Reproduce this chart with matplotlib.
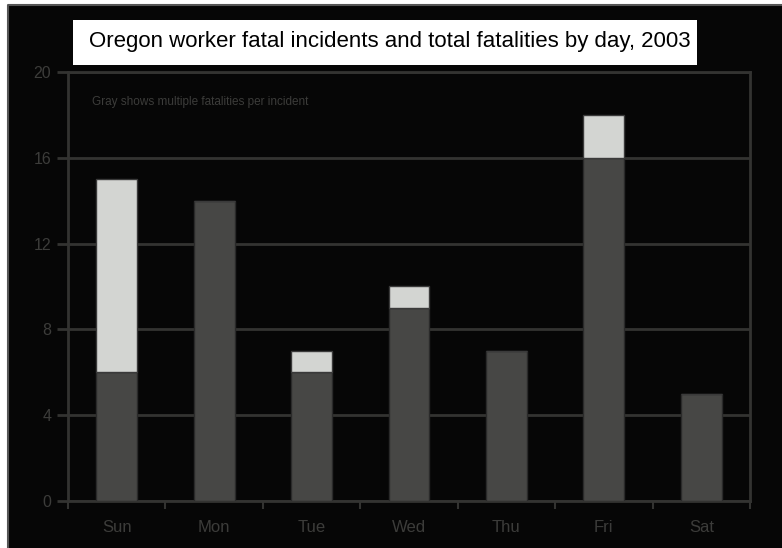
import matplotlib
matplotlib.use('Agg')
from matplotlib import pyplot as plt
from matplotlib.patches import Rectangle
from matplotlib.lines import Line2D
import numpy as np

days = ['Sun', 'Mon', 'Tue', 'Wed', 'Thu', 'Fri', 'Sat']
incidents = [6, 14, 6, 9, 7, 16, 5]
fatalities = [15, 14, 7, 10, 7, 18, 5]
y_ticks = [0, 4, 8, 12, 16, 20]

dark = '#474745'
light = '#d3d5d2'
line_col = '#333331'
text_col = '#3c3c3a'

plt.rcParams['font.family'] = ['Liberation Sans', 'DejaVu Sans']

fig = plt.figure(figsize=(7.82, 5.48), dpi=100, facecolor='white')
# black panel behind everything, gray edge only on top and left
x0, y1 = 8 / 782, 1 - 5 / 548
fig.patches.append(Rectangle((x0, 0), 1 - x0, y1, transform=fig.transFigure,
                             facecolor='#060606', edgecolor='none', zorder=-2))
fig.lines.append(Line2D([x0, x0, 1], [0, y1, y1], transform=fig.transFigure,
                        color='#555555', lw=1.5, zorder=-1))

ax = fig.add_axes([68 / 782, 1 - 501 / 548, (750 - 68) / 782, (501 - 72) / 548])
ax.set_zorder(1)
ax.set_facecolor('#060606')

x = np.arange(len(days))
extra = np.array(fatalities) - np.array(incidents)
ax.bar(x, incidents, width=0.42, color=dark, edgecolor='#2a2a2a', lw=1, zorder=3)
ax.bar(x, extra, bottom=incidents, width=0.42, color=light, edgecolor='#3a3a3a', lw=1, zorder=3)

ax.set_xlim(-0.5, len(days) - 0.5)
ax.set_ylim(0, 20)
ax.set_yticks(y_ticks)
ax.set_yticklabels([str(v) for v in y_ticks])
ax.yaxis.grid(True, color=line_col, lw=2, zorder=1)

ax.set_xticks(np.arange(-0.5, len(days), 1.0))
ax.set_xticklabels([])
ax.set_xticks(x, minor=True)
ax.set_xticklabels(days, minor=True)
ax.tick_params(axis='x', which='minor', length=0, pad=14, labelsize=12, labelcolor=text_col)
ax.tick_params(axis='x', which='major', length=6, width=1.5, color=line_col)
ax.tick_params(axis='y', length=8, width=2, color=line_col, labelsize=11.5, labelcolor=text_col, pad=4)

for s in ax.spines.values():
    s.set_color(line_col)
    s.set_linewidth(2)

ax.text(0.035, 0.93, 'Gray shows multiple fatalities per incident', transform=ax.transAxes,
        fontsize=8.5, color=text_col, va='center')

# title in a white box
fig.patches.append(Rectangle((73 / 782, 1 - 65 / 548), (697 - 73) / 782, 45 / 548,
                             transform=fig.transFigure, facecolor='white', edgecolor='none', zorder=5))
fig.text(390 / 782, 1 - 41 / 548, 'Oregon worker fatal incidents and total fatalities by day, 2003',
         ha='center', va='center', fontsize=16, color='black', zorder=6)

fig.savefig('out.png', dpi=100, facecolor='white')
